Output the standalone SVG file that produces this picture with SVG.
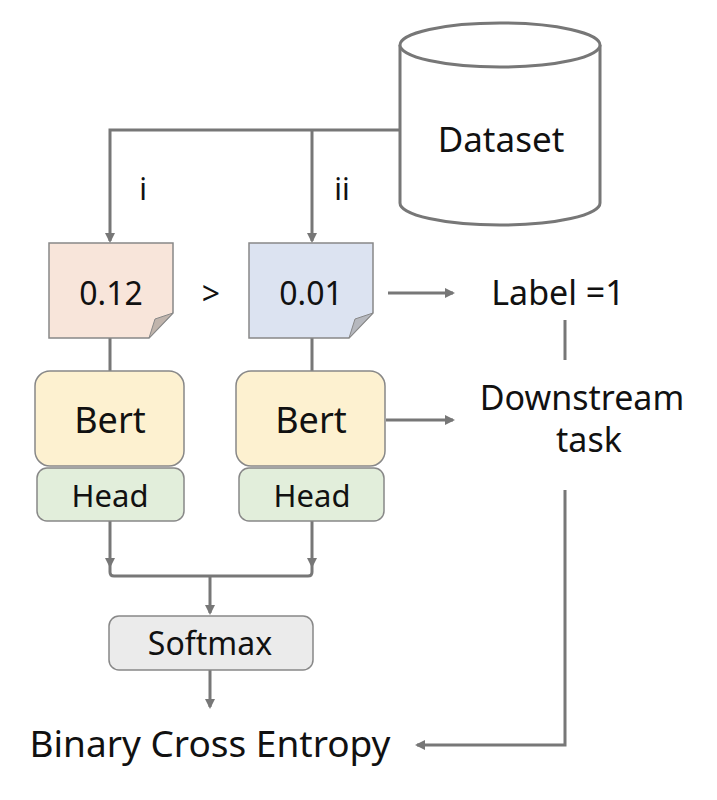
<svg xmlns="http://www.w3.org/2000/svg" width="717" height="800" viewBox="0 0 717 800">
<style>
text{font-family:"Noto Sans","Liberation Sans",sans-serif;fill:#111;text-anchor:middle}
.ln{fill:none;stroke:#777;stroke-width:3}
.bx{stroke:#888;stroke-width:1.5}
</style>
<defs><marker id="a" markerWidth="10" markerHeight="10" refX="8" refY="5" orient="auto" markerUnits="userSpaceOnUse"><path d="M0,0L10,5L0,10z" fill="#777"/></marker></defs>
<rect width="717" height="800" fill="#fff"/>
<g id="connectors">
<path class="ln" d="M400,130H110V241" marker-end="url(#a)"/>
<path class="ln" d="M312,130V241" marker-end="url(#a)"/>
<path class="ln" d="M110,338V371M312,338V371"/>
<path class="ln" d="M388,293H453" marker-end="url(#a)"/>
<path class="ln" d="M565,320V360"/>
<path class="ln" d="M386,420H453" marker-end="url(#a)"/>
<path class="ln" d="M565,490V745H417" marker-end="url(#a)"/>
<path class="ln" d="M110,521V566" marker-end="url(#a)"/>
<path class="ln" d="M312,521V566" marker-end="url(#a)"/>
<path class="ln" d="M110,566V572Q110,576 114,576H308Q312,576 312,572V566"/>
<path class="ln" d="M210,576V613" marker-end="url(#a)"/>
<path class="ln" d="M210,670V707" marker-end="url(#a)"/>
</g>
<g id="dataset">
<path d="M400,45V203A100,22 0 0 0 600,203V45" fill="#fff" stroke="#777" stroke-width="3"/>
<ellipse cx="500" cy="45" rx="100" ry="22" fill="#fff" stroke="#777" stroke-width="3"/>
<text x="501" y="152" font-size="35">Dataset</text>
</g>
<text x="143" y="200" font-size="30">i</text>
<text x="342" y="200" font-size="30">ii</text>
<g id="n1"><path class="bx" d="M49,243H173V313L149,338H49z" fill="#f8e5da"/><path d="M173,313L149,338L155,319z" fill="#c0b4ac" stroke="#888"/><text x="111" y="305" font-size="32">0.12</text></g>
<text x="211" y="305" font-size="32">&gt;</text>
<g id="n2"><path class="bx" d="M249,243H373V313L349,338H249z" fill="#dce3f1"/><path d="M373,313L349,338L355,319z" fill="#b6b8be" stroke="#888"/><text x="311" y="305" font-size="32">0.01</text></g>
<g id="label"><text x="558" y="305" font-size="34">Label =1</text></g>
<g id="downstream"><text x="582" y="410" font-size="34">Downstream</text><text x="589" y="452" font-size="34">task</text></g>
<g id="bert1"><rect class="bx" x="35" y="371" width="149" height="95" rx="15" fill="#fdf1d0"/><text x="110" y="433" font-size="36">Bert</text></g>
<g id="head1"><rect class="bx" x="37" y="468" width="147" height="53" rx="10" fill="#e2eedb"/><text x="110" y="507" font-size="31">Head</text></g>
<g id="bert2"><rect class="bx" x="236" y="371" width="149" height="95" rx="15" fill="#fdf1d0"/><text x="311" y="433" font-size="36">Bert</text></g>
<g id="head2"><rect class="bx" x="239" y="468" width="145" height="53" rx="10" fill="#e2eedb"/><text x="312" y="507" font-size="31">Head</text></g>
<g id="softmax"><rect class="bx" x="109" y="616" width="204" height="54" rx="10" fill="#ebebeb"/><text x="210" y="655" font-size="32">Softmax</text></g>
<g id="bce"><text x="210" y="757" font-size="37">Binary Cross Entropy</text></g>
</svg>
